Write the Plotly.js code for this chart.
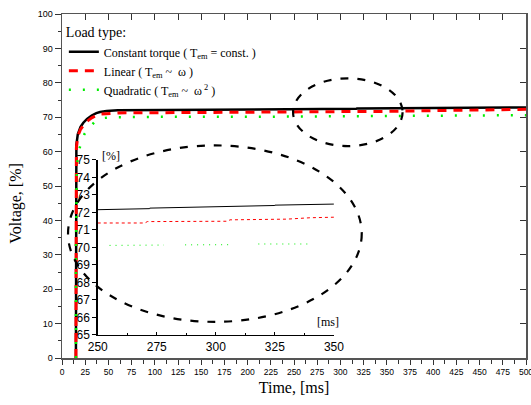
<!DOCTYPE html>
<html>
<head>
<meta charset="utf-8">
<script src="https://cdn.plot.ly/plotly-3.0.1.min.js"></script>
<style>html,body{margin:0;padding:0;background:#fff;}#chart{width:531px;height:405px;}</style>
</head>
<body>
<div id="chart"></div>
<script>
// ---- main chart data (time in ms, voltage in %) ----
var tConst = [15, 15, 15.5, 17, 20, 23, 27, 32, 37, 41, 48, 60, 100, 150, 229, 230, 300, 317, 318, 409, 410, 500];
var vConst = [0, 30, 62, 65, 67.2, 68.4, 69.5, 70.5, 71.2, 71.5, 71.8, 72.0, 72.05, 72.1, 72.15, 72.2, 72.3, 72.45, 72.5, 72.7, 72.8, 72.85];
var tLin = [15, 15, 15.5, 17, 20, 23, 27, 32, 37, 42, 50, 60, 100, 150, 200, 250, 300, 350, 400, 450, 500];
var vLin = [0, 30, 61, 64.5, 66.5, 67.6, 68.8, 69.8, 70.5, 70.9, 71.1, 71.25, 71.3, 71.35, 71.4, 71.45, 71.5, 71.7, 71.9, 72.1, 72.3];
var tQuad = [15, 15, 16, 18, 21, 24, 27, 31, 35, 40, 46, 55, 70, 100, 200, 300, 400, 500];
var vQuad = [0, 30, 56, 60, 63, 65, 66.3, 67.6, 68.6, 69.3, 69.8, 70.0, 70.1, 70.1, 70.1, 70.2, 70.4, 70.6];

// ---- inset data (zoom 250..350 ms) ----
var tInConst = [250, 258, 258, 272, 272, 300, 307, 307, 325, 325, 338, 338, 350];
var vInConst = [72.16, 72.17, 72.19, 72.22, 72.25, 72.31, 72.33, 72.36, 72.40, 72.42, 72.44, 72.47, 72.48];
var tInLin = [250, 270, 271, 305, 306, 330, 340, 350];
var vInLin = [71.40, 71.40, 71.48, 71.50, 71.58, 71.62, 71.70, 71.73];
var tInQuad = [255, 278, null, 287, 306, null, 318, 340];
var vInQuad = [70.12, 70.14, null, 70.15, 70.16, null, 70.2, 70.2];

// ---- labels ----
var seriesNames = [
  'Constant torque ( T<sub>em</sub> = const. )',
  'Linear ( T<sub>em</sub> ~  \u03c9 )',
  'Quadratic ( T<sub>em</sub> ~  \u03c9<sup> 2</sup> )'
];
var xTickVals = [0,25,50,75,100,125,150,175,200,225,250,275,300,325,350,375,400,425,450,475,500];
var yTickVals = [0,10,20,30,40,50,60,70,80,90,100];
var inXTicks = [250,275,300,325,350];
var inYTicks = [65,66,67,68,69,70,71,72,73,74,75];

var serif = 'Liberation Serif, Times New Roman, serif';
var sans = 'Liberation Sans, Arial, sans-serif';

var traces = [
  // inset traces (subplot x/y)
  {x: tInConst, y: vInConst, xaxis: 'x', yaxis: 'y', mode: 'lines', line: {color: '#000', width: 1}, showlegend: false, hoverinfo: 'skip'},
  {x: tInLin, y: vInLin, xaxis: 'x', yaxis: 'y', mode: 'lines', line: {color: '#ff0000', width: 1, dash: '3px,3px'}, showlegend: false, hoverinfo: 'skip'},
  {x: tInQuad, y: vInQuad, xaxis: 'x', yaxis: 'y', mode: 'lines', line: {color: '#00ee00', width: 1, dash: '1px,5px'}, showlegend: false, hoverinfo: 'skip', connectgaps: false},
  // main traces (subplot x2/y2)
  {x: tConst, y: vConst, xaxis: 'x2', yaxis: 'y2', mode: 'lines', name: seriesNames[0], line: {color: '#000', width: 2.5}},
  {x: tLin, y: vLin, xaxis: 'x2', yaxis: 'y2', mode: 'lines', name: seriesNames[1], line: {color: '#ff0000', width: 3, dash: '9px,7px'}},
  {x: tQuad, y: vQuad, xaxis: 'x2', yaxis: 'y2', mode: 'lines', name: seriesNames[2], line: {color: '#00ee00', width: 2.5, dash: '2px,12px'}},
  // frame axes (top / right)
  {x: [], y: [], xaxis: 'x3', yaxis: 'y3', mode: 'lines', showlegend: false, hoverinfo: 'skip'}
];

var layout = {
  width: 531, height: 405,
  margin: {l: 62, r: 5, t: 14, b: 47},
  paper_bgcolor: '#fff', plot_bgcolor: 'rgba(0,0,0,0)',
  showlegend: true,
  legend: {
    x: 0.004, y: 0.985, xanchor: 'left', yanchor: 'top',
    bgcolor: 'rgba(0,0,0,0)', borderwidth: 0,
    font: {family: serif, size: 12, color: '#000'},
    title: {text: 'Load type:', font: {family: serif, size: 14, color: '#000'}},
    tracegroupgap: 0, itemwidth: 30
  },
  // inset axes
  xaxis: {
    domain: [0.077, 0.586], anchor: 'y', range: [250, 350],
    tickvals: inXTicks, ticktext: inXTicks.map(String),
    ticks: 'inside', ticklen: 3, tickcolor: '#000',
    minor: {dtick: 12.5, ticks: 'inside', ticklen: 2, tickcolor: '#000', showgrid: false},
    showline: true, linecolor: '#000', linewidth: 1.5, mirror: false,
    showgrid: false, zeroline: false,
    tickfont: {family: sans, size: 12, color: '#000'}
  },
  yaxis: {
    domain: [0.0669, 0.5756], anchor: 'x', range: [65, 75],
    tickvals: inYTicks, ticktext: inYTicks.map(String),
    ticks: 'outside', ticklen: 4, tickcolor: '#000',
    showline: true, linecolor: '#000', linewidth: 1.5, mirror: false,
    showgrid: false, zeroline: false,
    tickfont: {family: sans, size: 12, color: '#000'}
  },
  // main axes
  xaxis2: {
    domain: [0, 1], anchor: 'y2', range: [0, 500],
    tickvals: xTickVals, ticktext: xTickVals.map(String),
    ticks: 'outside', ticklen: 5, tickcolor: '#333', tickwidth: 1,
    minor: {dtick: 12.5, ticks: 'outside', ticklen: 4, tickcolor: '#333', showgrid: false},
    showline: true, linecolor: '#555', linewidth: 1.5,
    showgrid: false, zeroline: false, ticklabeloverflow: 'allow',
    tickfont: {family: sans, size: 8.5, color: '#000'},
    title: {text: 'Time, [ms]', font: {family: serif, size: 16, color: '#000'}, standoff: 6}
  },
  yaxis2: {
    domain: [0, 1], anchor: 'x2', range: [0, 100],
    tickvals: yTickVals, ticktext: yTickVals.map(String),
    ticks: 'outside', ticklen: 6, tickcolor: '#333', tickwidth: 1,
    minor: {dtick: 5, ticks: 'outside', ticklen: 3, tickcolor: '#333', showgrid: false},
    showline: true, linecolor: '#555', linewidth: 1.5,
    showgrid: false, zeroline: false,
    tickfont: {family: sans, size: 9, color: '#000'}
  },
  // frame (top/right) with inward ticks
  xaxis3: {
    overlaying: 'x2', side: 'top', anchor: 'y3', range: [0, 500],
    tickvals: xTickVals, ticks: 'inside', ticklen: 6, tickcolor: '#333',
    showticklabels: false, showline: true, linecolor: '#555', linewidth: 1.5,
    showgrid: false, zeroline: false
  },
  yaxis3: {
    overlaying: 'y2', side: 'right', anchor: 'x3', range: [0, 100],
    tickvals: yTickVals, ticks: 'inside', ticklen: 6, tickcolor: '#333',
    showticklabels: false, showline: true, linecolor: '#555', linewidth: 1.5,
    showgrid: false, zeroline: false
  },
  shapes: [
    {type: 'circle', xref: 'x2', yref: 'y2', x0: 249, x1: 367, y0: 61.6, y1: 81.3,
     line: {color: '#000', width: 2.2, dash: '8px,9px'}},
    {type: 'circle', xref: 'x2', yref: 'y2', x0: 6.5, x1: 323, y0: 10.5, y1: 61.8,
     line: {color: '#000', width: 2.2, dash: '8px,9px'}}
  ],
  annotations: [
    {text: 'Voltage, [%]', xref: 'paper', yref: 'paper', x: -0.098, y: 0.45, textangle: -90,
     showarrow: false, font: {family: serif, size: 16, color: '#000'}, xanchor: 'center', yanchor: 'middle'},
    {text: '[%]', xref: 'paper', yref: 'paper', x: 0.082, y: 0.588, xanchor: 'left', yanchor: 'middle',
     showarrow: false, font: {family: serif, size: 12, color: '#000'}},
    {text: '[ms]', xref: 'paper', yref: 'paper', x: 0.545, y: 0.105, xanchor: 'left', yanchor: 'middle',
     showarrow: false, font: {family: serif, size: 12, color: '#000'}}
  ]
};

Plotly.newPlot('chart', traces, layout, {displayModeBar: false, staticPlot: true});
</script>
</body>
</html>
